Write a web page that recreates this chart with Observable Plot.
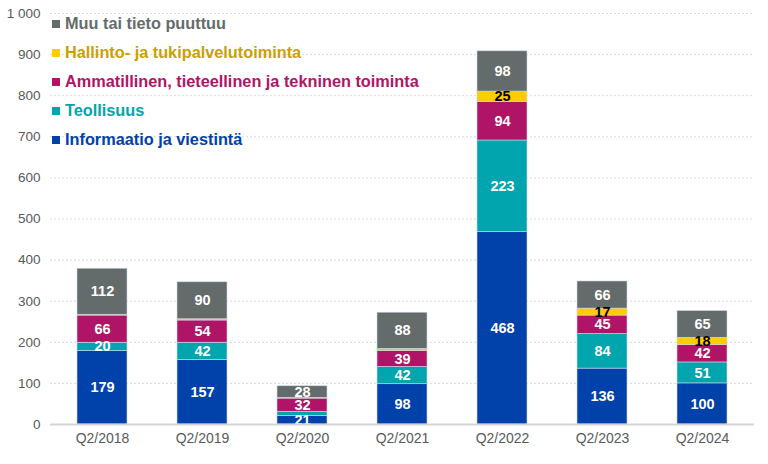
<!DOCTYPE html>
<html>
<head>
<meta charset="utf-8">
<script src="https://cdn.jsdelivr.net/npm/d3@7"></script>
<script src="https://cdn.jsdelivr.net/npm/@observablehq/plot@0.6"></script>
<style>
  html, body { margin: 0; padding: 0; background: #fff; }
  #wrap { position: relative; width: 768px; height: 464px; font-family: "Liberation Sans", Arial, sans-serif; }
  #legend { position: absolute; left: 52px; top: 9px; }
  .row { display: flex; align-items: center; height: 29px; font-weight: bold; font-size: 16.3px; }
  .sw { width: 8px; height: 8px; margin-right: 5px; }
  svg [aria-label="y-axis tick label"] { fill: #595959; font-size: 13.5px; }
  svg [aria-label="x-axis tick label"] { fill: #595959; font-size: 14px; }
</style>
</head>
<body>
<div id="wrap">
  <div id="chart"></div>
  <div id="legend"></div>
</div>
<script>
const quarters = ["Q2/2018", "Q2/2019", "Q2/2020", "Q2/2021", "Q2/2022", "Q2/2023", "Q2/2024"];
const seriesNames = [
  "Informaatio ja viestintä",
  "Teollisuus",
  "Ammatillinen, tieteellinen ja tekninen toiminta",
  "Hallinto- ja tukipalvelutoiminta",
  "Muu tai tieto puuttuu"
];
const informaatio = [179, 157, 21, 98, 468, 136, 100];
const teollisuus = [20, 42, 10, 42, 223, 84, 51];
const ammatillinen = [66, 54, 32, 39, 94, 45, 42];
const hallinto = [2, 3, 2, 5, 25, 17, 18];
const muu = [112, 90, 28, 88, 98, 66, 65];
const yTicks = [0, 100, 200, 300, 400, 500, 600, 700, 800, 900, 1000];

const colors = ["#0041aa", "#00a5ae", "#b01466", "#ffcc00", "#646c6b"];
const legendText = ["#0041aa", "#00a5ae", "#b01466", "#c9a200", "#646c6b"];
const labelColors = ["#fff", "#fff", "#fff", "#000", "#fff"];

const seriesValues = [informaatio, teollisuus, ammatillinen, hallinto, muu];
const data = [];
seriesValues.forEach((vals, si) => {
  vals.forEach((v, qi) => data.push({quarter: quarters[qi], series: seriesNames[si], value: v, si}));
});

const fmt = v => v >= 1000 ? d3.format(",")(v).replace(/,/g, " ") : String(v);

const chart = Plot.plot({
  width: 768,
  height: 464,
  marginLeft: 50,
  marginRight: 14,
  marginTop: 13,
  marginBottom: 40,
  style: {fontFamily: "'Liberation Sans', Arial, sans-serif", background: "#fff"},
  x: {domain: quarters, paddingInner: 0.5, paddingOuter: 0.25, label: null, tickSize: 0, tickPadding: 9},
  y: {domain: [0, 1000], ticks: yTicks, tickFormat: fmt, label: null, tickSize: 0, tickPadding: 10},
  color: {domain: seriesNames, range: colors},
  marks: [
    Plot.ruleY(yTicks.filter(d => d > 0), {stroke: "#d9d9d9", strokeDasharray: "2,2", strokeWidth: 1}),
    Plot.barY(data, Plot.stackY({x: "quarter", y: "value", fill: "series", stroke: "#cfd6e6", strokeWidth: 0.6, order: null})),
    Plot.text(data, Plot.stackY({
      x: "quarter", y: "value", z: "series", order: null,
      text: d => d.value >= 15 ? String(d.value) : "",
      fill: d => labelColors[d.si],
      fontWeight: "bold", fontSize: 14.5
    })),
    Plot.ruleY([0], {stroke: "#d4d4d4", strokeWidth: 2})
  ]
});
document.getElementById("chart").appendChild(chart);

const leg = document.getElementById("legend");
for (let i = seriesNames.length - 1; i >= 0; i--) {
  const row = document.createElement("div");
  row.className = "row";
  row.style.color = legendText[i];
  const sw = document.createElement("span");
  sw.className = "sw";
  sw.style.background = colors[i];
  row.appendChild(sw);
  row.appendChild(document.createTextNode(seriesNames[i]));
  leg.appendChild(row);
}
</script>
</body>
</html>
